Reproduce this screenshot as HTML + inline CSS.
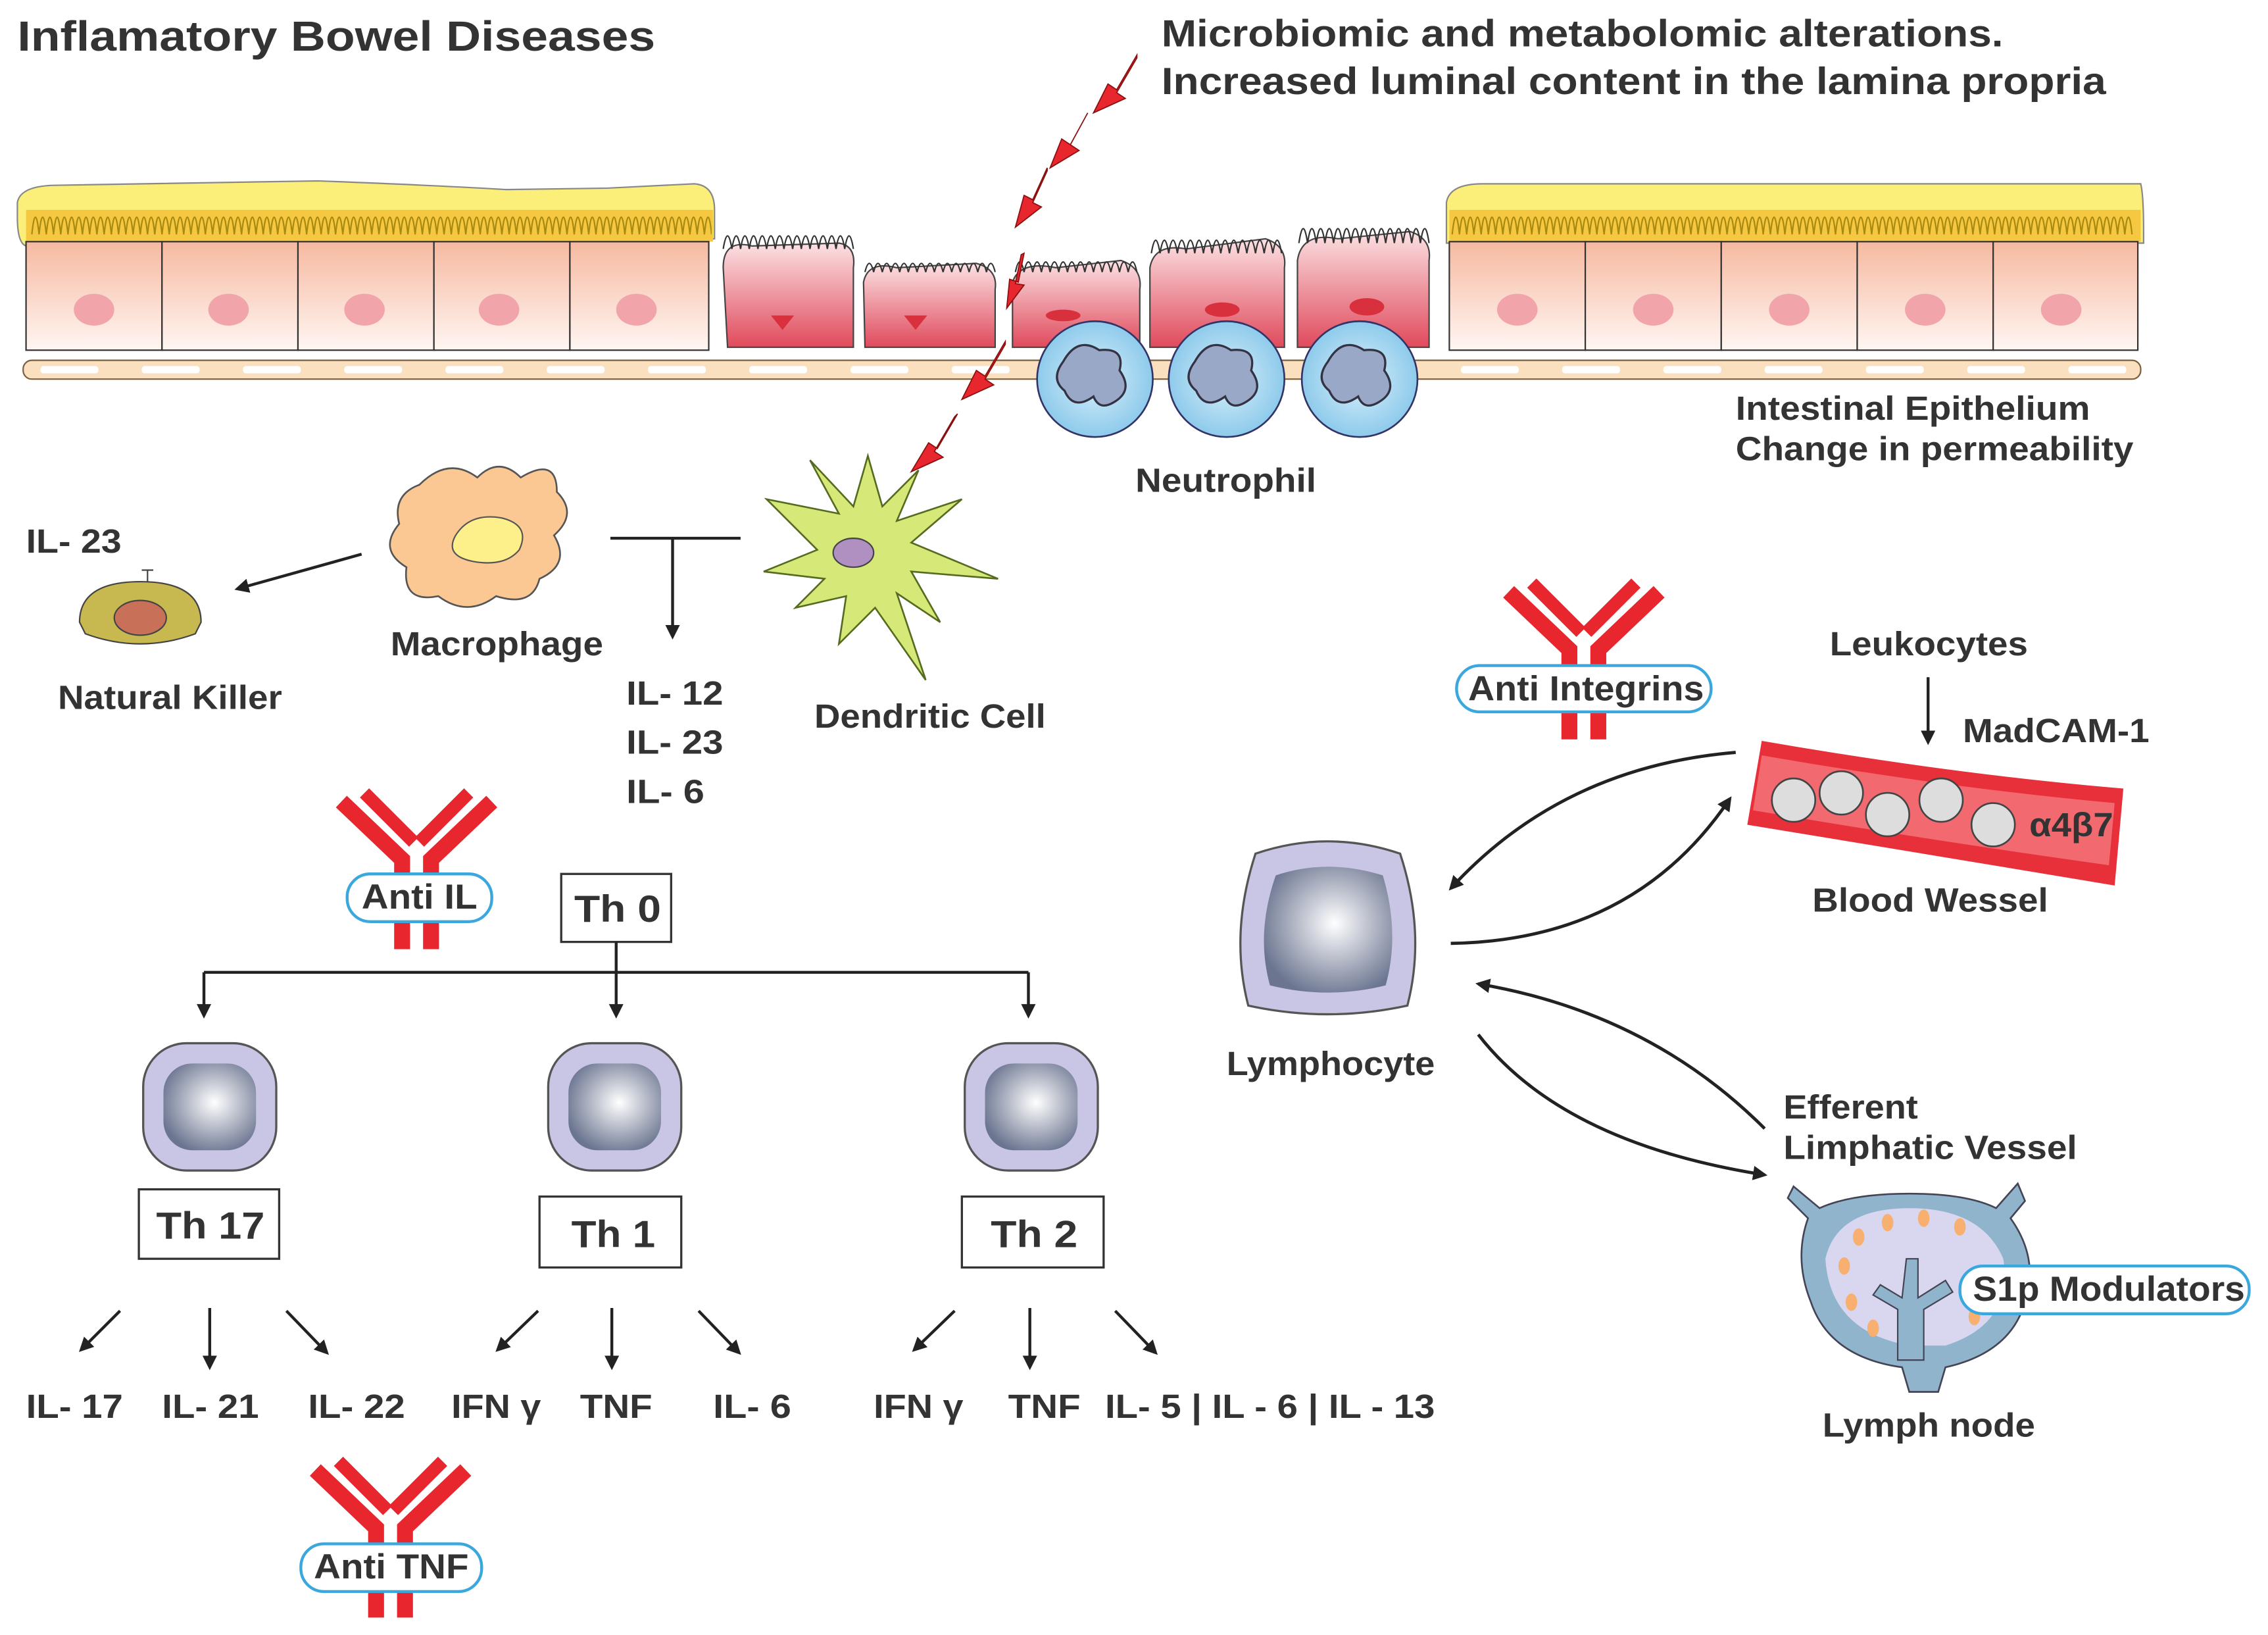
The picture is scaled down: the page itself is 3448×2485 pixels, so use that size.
<!DOCTYPE html>
<html><head><meta charset="utf-8"><style>
html,body{margin:0;padding:0;background:#fff;}
svg{display:block;}
text{font-family:"Liberation Sans",Arial,sans-serif;font-weight:bold;fill:#333;}
</style></head><body>
<svg width="3448" height="2485" viewBox="0 0 1568 1130" xmlns="http://www.w3.org/2000/svg">
<defs>
<marker id="ar" markerWidth="10" markerHeight="10" refX="8" refY="5" orient="auto" markerUnits="userSpaceOnUse" viewBox="0 0 10 10"><path d="M0,0 L10,5 L0,10 z" fill="#222"/></marker>
<linearGradient id="cellg" x1="0" y1="0" x2="0" y2="1"><stop offset="0" stop-color="#f6b9a0"/><stop offset="1" stop-color="#fff6f2"/></linearGradient>
<linearGradient id="pinkg" x1="0" y1="0" x2="0" y2="1"><stop offset="0" stop-color="#fbe1e3"/><stop offset="1" stop-color="#e04a5c"/></linearGradient>
<radialGradient id="lym" cx="0.55" cy="0.45" r="0.6"><stop offset="0" stop-color="#ffffff"/><stop offset="1" stop-color="#6b7590"/></radialGradient>
<radialGradient id="neu" cx="0.5" cy="0.5" r="0.6"><stop offset="0" stop-color="#d9f0fb"/><stop offset="1" stop-color="#7fc3e8"/></radialGradient>
<clipPath id="vclip"><rect x="18" y="120" width="474" height="60"/><rect x="1002" y="120" width="476" height="60"/></clipPath>
<g id="ab">
<path d="M-52,-46 L-10,-6 L-10,56 M52,-46 L10,-6 L10,56" stroke="#e8262e" stroke-width="11" fill="none"/>
<path d="M-36,-52 L-2,-18 M36,-52 L2,-18" stroke="#e8262e" stroke-width="9" fill="none"/>
</g>
<g id="lc">
<rect x="-46" y="-44" width="92" height="88" rx="30" fill="#c9c5e4" stroke="#555" stroke-width="1.5"/>
<rect x="-32" y="-30" width="64" height="60" rx="20" fill="url(#lym)"/>
</g>
</defs>

<text x="12" y="35" font-size="29" textLength="441" lengthAdjust="spacingAndGlyphs">Inflamatory Bowel Diseases</text>
<text x="803" y="32" font-size="26" textLength="582" lengthAdjust="spacingAndGlyphs">Microbiomic and metabolomic alterations.</text>
<text x="803" y="65" font-size="26" textLength="653" lengthAdjust="spacingAndGlyphs">Increased luminal content in the lamina propria</text>

<g>
<path d="M12,140 Q14,128 40,128 L220,125 Q300,128 350,131 L420,130 L480,127 Q494,128 494,145 L494,165 L18,170 Q12,168 12,150z" fill="#fbef7a" stroke="#888" stroke-width="1"/>
<rect x="18" y="145" width="475" height="22" fill="#f6c842"/>
<g fill="url(#cellg)" stroke="#333" stroke-width="1">
<rect x="18" y="167" width="94" height="75"/><rect x="112" y="167" width="94" height="75"/><rect x="206" y="167" width="94" height="75"/><rect x="300" y="167" width="94" height="75"/><rect x="394" y="167" width="96" height="75"/>
</g>
<g fill="#f2a4ab"><ellipse cx="65" cy="214" rx="14" ry="11"/><ellipse cx="158" cy="214" rx="14" ry="11"/><ellipse cx="252" cy="214" rx="14" ry="11"/><ellipse cx="345" cy="214" rx="14" ry="11"/><ellipse cx="440" cy="214" rx="14" ry="11"/></g>
</g>
<g>
<path d="M1000,140 Q1002,127 1025,127 L1480,127 Q1482,135 1482,160 L1482,168 L1000,168z" fill="#fbef7a" stroke="#888" stroke-width="1"/>
<rect x="1002" y="145" width="478" height="22" fill="#f6c842"/>
<g fill="url(#cellg)" stroke="#333" stroke-width="1">
<rect x="1002" y="167" width="94" height="75"/><rect x="1096" y="167" width="94" height="75"/><rect x="1190" y="167" width="94" height="75"/><rect x="1284" y="167" width="94" height="75"/><rect x="1378" y="167" width="100" height="75"/>
</g>
<g fill="#f2a4ab"><ellipse cx="1049" cy="214" rx="14" ry="11"/><ellipse cx="1143" cy="214" rx="14" ry="11"/><ellipse cx="1237" cy="214" rx="14" ry="11"/><ellipse cx="1331" cy="214" rx="14" ry="11"/><ellipse cx="1425" cy="214" rx="14" ry="11"/></g>
</g>
<g stroke="#444" stroke-width="1">
<path d="M500,185 Q500,165 520,170 L580,168 Q592,170 590,185 L590,240 L503,240z" fill="url(#pinkg)"/>
<path d="M597,195 Q600,180 620,185 L675,182 Q690,186 688,200 L688,240 L598,240z" fill="url(#pinkg)"/>
<path d="M700,195 Q705,180 730,185 L775,180 Q790,185 788,200 L788,240 L700,240z" fill="url(#pinkg)"/>
<path d="M795,185 Q798,168 820,172 L875,165 Q890,170 888,185 L888,240 L795,240z" fill="url(#pinkg)"/>
<path d="M897,180 Q900,160 925,165 L975,160 Q990,165 988,180 L988,240 L897,240z" fill="url(#pinkg)"/>
</g>
<g stroke="#333" stroke-width="1" fill="none">
<path d="M500,172 q3,-18 6,0 q3,-18 6,0 q3,-18 6,0 q3,-18 6,0 q3,-18 6,0 q3,-18 6,0 q3,-18 6,0 q3,-18 6,0 q3,-18 6,0 q3,-18 6,0 q3,-18 6,0 q3,-18 6,0 q3,-18 6,0 q3,-18 6,0 q3,-18 6,0"/>
<path d="M598,188 q3,-12 6,0 q3,-12 6,0 q3,-12 6,0 q3,-12 6,0 q3,-12 6,0 q3,-12 6,0 q3,-12 6,0 q3,-12 6,0 q3,-12 6,0 q3,-12 6,0 q3,-12 6,0 q3,-12 6,0 q3,-12 6,0 q3,-12 6,0 q3,-12 6,0"/>
<path d="M702,188 q3,-14 6,0 q3,-14 6,0 q3,-14 6,0 q3,-14 6,0 q3,-14 6,0 q3,-14 6,0 q3,-14 6,0 q3,-14 6,0 q3,-14 6,0 q3,-14 6,0 q3,-14 6,0 q3,-14 6,0 q3,-14 6,0 q3,-14 6,0"/>
<path d="M796,175 q3,-18 6,0 q3,-18 6,0 q3,-18 6,0 q3,-18 6,0 q3,-18 6,0 q3,-18 6,0 q3,-18 6,0 q3,-18 6,0 q3,-18 6,0 q3,-18 6,0 q3,-18 6,0 q3,-18 6,0 q3,-18 6,0 q3,-18 6,0 q3,-18 6,0"/>
<path d="M898,168 q3,-20 6,0 q3,-20 6,0 q3,-20 6,0 q3,-20 6,0 q3,-20 6,0 q3,-20 6,0 q3,-20 6,0 q3,-20 6,0 q3,-20 6,0 q3,-20 6,0 q3,-20 6,0 q3,-20 6,0 q3,-20 6,0 q3,-20 6,0 q3,-20 6,0"/>
</g>
<g fill="#d9303e"><path d="M533,218 l16,0 l-8,10z"/><path d="M625,218 l16,0 l-8,10z"/><ellipse cx="735" cy="218" rx="12" ry="4"/><ellipse cx="845" cy="214" rx="12" ry="5"/><ellipse cx="945" cy="212" rx="12" ry="6"/></g>
<g stroke="#a88a10" stroke-width="1" fill="none" clip-path="url(#vclip)">
<path id="vl" d="M22,162 q2.5,-24 5,0 q2.5,-24 5,0 q2.5,-24 5,0 q2.5,-24 5,0 q2.5,-24 5,0 q2.5,-24 5,0 q2.5,-24 5,0 q2.5,-24 5,0 q2.5,-24 5,0 q2.5,-24 5,0 q2.5,-24 5,0 q2.5,-24 5,0 q2.5,-24 5,0 q2.5,-24 5,0 q2.5,-24 5,0 q2.5,-24 5,0 q2.5,-24 5,0 q2.5,-24 5,0 q2.5,-24 5,0 q2.5,-24 5,0 q2.5,-24 5,0 q2.5,-24 5,0 q2.5,-24 5,0 q2.5,-24 5,0 q2.5,-24 5,0 q2.5,-24 5,0 q2.5,-24 5,0 q2.5,-24 5,0 q2.5,-24 5,0 q2.5,-24 5,0 q2.5,-24 5,0 q2.5,-24 5,0 q2.5,-24 5,0 q2.5,-24 5,0 q2.5,-24 5,0 q2.5,-24 5,0 q2.5,-24 5,0 q2.5,-24 5,0 q2.5,-24 5,0 q2.5,-24 5,0 q2.5,-24 5,0 q2.5,-24 5,0 q2.5,-24 5,0 q2.5,-24 5,0 q2.5,-24 5,0 q2.5,-24 5,0 q2.5,-24 5,0 q2.5,-24 5,0 q2.5,-24 5,0 q2.5,-24 5,0 q2.5,-24 5,0 q2.5,-24 5,0 q2.5,-24 5,0 q2.5,-24 5,0 q2.5,-24 5,0 q2.5,-24 5,0 q2.5,-24 5,0 q2.5,-24 5,0 q2.5,-24 5,0 q2.5,-24 5,0 q2.5,-24 5,0 q2.5,-24 5,0 q2.5,-24 5,0 q2.5,-24 5,0 q2.5,-24 5,0 q2.5,-24 5,0 q2.5,-24 5,0 q2.5,-24 5,0 q2.5,-24 5,0 q2.5,-24 5,0 q2.5,-24 5,0 q2.5,-24 5,0 q2.5,-24 5,0 q2.5,-24 5,0 q2.5,-24 5,0 q2.5,-24 5,0 q2.5,-24 5,0 q2.5,-24 5,0 q2.5,-24 5,0 q2.5,-24 5,0 q2.5,-24 5,0 q2.5,-24 5,0 q2.5,-24 5,0 q2.5,-24 5,0 q2.5,-24 5,0 q2.5,-24 5,0 q2.5,-24 5,0 q2.5,-24 5,0 q2.5,-24 5,0 q2.5,-24 5,0 q2.5,-24 5,0 q2.5,-24 5,0 q2.5,-24 5,0 q2.5,-24 5,0"/>
<use href="#vl" x="982"/>
</g>
<rect x="16" y="249" width="1464" height="13" rx="6" fill="#fbe0c0" stroke="#7a6040" stroke-width="1"/>
<g fill="#fff">
<rect x="28" y="253" width="40" height="5" rx="2"/><rect x="98" y="253" width="40" height="5" rx="2"/><rect x="168" y="253" width="40" height="5" rx="2"/><rect x="238" y="253" width="40" height="5" rx="2"/><rect x="308" y="253" width="40" height="5" rx="2"/><rect x="378" y="253" width="40" height="5" rx="2"/><rect x="448" y="253" width="40" height="5" rx="2"/><rect x="518" y="253" width="40" height="5" rx="2"/><rect x="588" y="253" width="40" height="5" rx="2"/><rect x="658" y="253" width="40" height="5" rx="2"/><rect x="1010" y="253" width="40" height="5" rx="2"/><rect x="1080" y="253" width="40" height="5" rx="2"/><rect x="1150" y="253" width="40" height="5" rx="2"/><rect x="1220" y="253" width="40" height="5" rx="2"/><rect x="1290" y="253" width="40" height="5" rx="2"/><rect x="1360" y="253" width="40" height="5" rx="2"/><rect x="1430" y="253" width="40" height="5" rx="2"/>
</g>
<g stroke="#336" stroke-width="1.2">
<circle cx="757" cy="262" r="40" fill="url(#neu)"/><circle cx="848" cy="262" r="40" fill="url(#neu)"/><circle cx="940" cy="262" r="40" fill="url(#neu)"/>
</g>
<g fill="#9aa8c8" stroke="#334" stroke-width="1.5">
<path d="M735,250 q10,-18 25,-8 q18,-2 14,14 q10,14 -4,22 q-10,6 -14,-4 q-14,10 -20,-4 q-10,-8 -1,-20z"/>
<path d="M826,250 q10,-18 25,-8 q18,-2 14,14 q10,14 -4,22 q-10,6 -14,-4 q-14,10 -20,-4 q-10,-8 -1,-20z"/>
<path d="M918,250 q10,-18 25,-8 q18,-2 14,14 q10,14 -4,22 q-10,6 -14,-4 q-14,10 -20,-4 q-10,-8 -1,-20z"/>
</g>
<g fill="#e8262e" stroke="#8a1010" stroke-width="0.8">
<path d="M786,38 l-14,24 l-6,-4 l-10,20 l22,-10 l-6,-4 l14,-24z"/>
<path d="M752,78 l-12,22 l-6,-4 l-8,20 l20,-12 l-6,-4 l12,-22z"/>
<path d="M724,116 l-10,22 l-6,-3 l-6,22 l18,-14 l-6,-3 l10,-22z"/>
<path d="M708,175 l-4,20 l-6,-2 l-2,20 l12,-16 l-6,-1 l4,-20z"/>
<path d="M695,236 l-14,24 l-6,-4 l-10,20 l22,-10 l-6,-4 l14,-24z"/>
<path d="M662,286 l-14,24 l-6,-4 l-12,20 l22,-10 l-6,-4 l14,-24z"/>
</g>
<text x="1200" y="290" font-size="23" textLength="245" lengthAdjust="spacingAndGlyphs">Intestinal Epithelium</text>
<text x="1200" y="318" font-size="23" textLength="275" lengthAdjust="spacingAndGlyphs">Change in permeability</text>
<text x="785" y="340" font-size="23" textLength="125" lengthAdjust="spacingAndGlyphs">Neutrophil</text>

<path d="M290,335 q20,-20 40,-5 q15,-15 30,0 q25,-15 25,10 q15,15 -2,30 q12,20 -10,30 q-5,20 -30,12 q-20,15 -40,0 q-25,5 -22,-20 q-20,-12 -5,-30 q-5,-20 14,-27z" fill="#fbc894" stroke="#555" stroke-width="1.2"/>
<path d="M315,370 q10,-16 32,-12 q20,5 12,22 q-10,12 -32,8 q-20,-4 -12,-18z" fill="#fdf08a" stroke="#555"/>
<text x="270" y="453" font-size="23" textLength="147" lengthAdjust="spacingAndGlyphs">Macrophage</text>
<g stroke="#556b20" stroke-width="1.2" fill="#d6e878">
<path d="M580,355 L560,318 L590,350 L600,315 L610,350 L635,325 L620,360 L665,345 L630,375 L690,400 L630,395 L650,430 L620,410 L640,470 L605,420 L580,445 L585,412 L550,420 L570,400 L528,395 L565,380 L530,345z"/>
</g>
<ellipse cx="590" cy="382" rx="14" ry="10" fill="#b090c0" stroke="#444"/>
<text x="563" y="503" font-size="23" textLength="160" lengthAdjust="spacingAndGlyphs">Dendritic Cell</text>
<path d="M55,430 q0,-28 42,-28 q42,0 42,28 l-4,8 q-38,14 -76,0z" fill="#c8b850" stroke="#444"/>
<ellipse cx="97" cy="427" rx="18" ry="12" fill="#c87058" stroke="#444"/>
<path d="M102,402 l0,-8 m-4,0 l8,0" stroke="#444"/>
<text x="18" y="382" font-size="23" textLength="66" lengthAdjust="spacingAndGlyphs">IL- 23</text>
<text x="40" y="490" font-size="23" textLength="155" lengthAdjust="spacingAndGlyphs">Natural Killer</text>

<g stroke="#222" stroke-width="2" fill="none">
<line x1="250" y1="383" x2="164" y2="407" marker-end="url(#ar)"/>
<line x1="422" y1="372" x2="512" y2="372"/>
<line x1="465" y1="372" x2="465" y2="440" marker-end="url(#ar)"/>
</g>
<text x="433" y="487" font-size="23" textLength="67" lengthAdjust="spacingAndGlyphs">IL- 12</text>
<text x="433" y="521" font-size="23" textLength="67" lengthAdjust="spacingAndGlyphs">IL- 23</text>
<text x="433" y="555" font-size="23" textLength="54" lengthAdjust="spacingAndGlyphs">IL- 6</text>

<use href="#ab" x="288" y="600"/>
<rect x="240" y="604" width="100" height="33" rx="16" fill="#fff" stroke="#3aa7dd" stroke-width="2"/>
<text x="250" y="628" font-size="24" textLength="80" lengthAdjust="spacingAndGlyphs">Anti IL</text>
<rect x="388" y="604" width="76" height="47" fill="#fff" stroke="#333" stroke-width="1.5"/>
<text x="397" y="637" font-size="26" textLength="60" lengthAdjust="spacingAndGlyphs">Th 0</text>

<g stroke="#222" stroke-width="2" fill="none">
<line x1="426" y1="651" x2="426" y2="672"/>
<line x1="141" y1="672" x2="711" y2="672"/>
<line x1="141" y1="672" x2="141" y2="702" marker-end="url(#ar)"/>
<line x1="426" y1="672" x2="426" y2="702" marker-end="url(#ar)"/>
<line x1="711" y1="672" x2="711" y2="702" marker-end="url(#ar)"/>
</g>
<use href="#lc" x="145" y="765"/>
<use href="#lc" x="425" y="765"/>
<use href="#lc" x="713" y="765"/>
<rect x="96" y="822" width="97" height="48" fill="#fff" stroke="#333" stroke-width="1.5"/>
<text x="108" y="856" font-size="26" textLength="75" lengthAdjust="spacingAndGlyphs">Th 17</text>
<rect x="373" y="827" width="98" height="49" fill="#fff" stroke="#333" stroke-width="1.5"/>
<text x="395" y="862" font-size="26" textLength="58" lengthAdjust="spacingAndGlyphs">Th 1</text>
<rect x="665" y="827" width="98" height="49" fill="#fff" stroke="#333" stroke-width="1.5"/>
<text x="685" y="862" font-size="26" textLength="60" lengthAdjust="spacingAndGlyphs">Th 2</text>

<g stroke="#222" stroke-width="2" fill="none">
<line x1="83" y1="906" x2="56" y2="933" marker-end="url(#ar)"/>
<line x1="145" y1="904" x2="145" y2="945" marker-end="url(#ar)"/>
<line x1="198" y1="906" x2="226" y2="935" marker-end="url(#ar)"/>
<line x1="372" y1="906" x2="344" y2="933" marker-end="url(#ar)"/>
<line x1="423" y1="904" x2="423" y2="945" marker-end="url(#ar)"/>
<line x1="483" y1="906" x2="511" y2="935" marker-end="url(#ar)"/>
<line x1="660" y1="906" x2="632" y2="933" marker-end="url(#ar)"/>
<line x1="712" y1="904" x2="712" y2="945" marker-end="url(#ar)"/>
<line x1="771" y1="906" x2="799" y2="935" marker-end="url(#ar)"/>
</g>
<g font-size="23">
<text x="18" y="980" textLength="67" lengthAdjust="spacingAndGlyphs">IL- 17</text><text x="112" y="980" textLength="67" lengthAdjust="spacingAndGlyphs">IL- 21</text><text x="213" y="980" textLength="67" lengthAdjust="spacingAndGlyphs">IL- 22</text>
<text x="312" y="980" textLength="62" lengthAdjust="spacingAndGlyphs">IFN γ</text><text x="401" y="980" textLength="50" lengthAdjust="spacingAndGlyphs">TNF</text><text x="493" y="980" textLength="54" lengthAdjust="spacingAndGlyphs">IL- 6</text>
<text x="604" y="980" textLength="62" lengthAdjust="spacingAndGlyphs">IFN γ</text><text x="697" y="980" textLength="50" lengthAdjust="spacingAndGlyphs">TNF</text><text x="764" y="980" textLength="228" lengthAdjust="spacingAndGlyphs">IL- 5 | IL - 6 | IL - 13</text>
</g>
<use href="#ab" x="270" y="1062"/>
<rect x="208" y="1067" width="125" height="33" rx="16" fill="#fff" stroke="#3aa7dd" stroke-width="2"/>
<text x="217" y="1091" font-size="24" textLength="107" lengthAdjust="spacingAndGlyphs">Anti TNF</text>

<use href="#ab" x="1095" y="455"/>
<rect x="1007" y="460" width="176" height="32" rx="16" fill="#fff" stroke="#3aa7dd" stroke-width="2"/>
<text x="1015" y="484" font-size="24" textLength="163" lengthAdjust="spacingAndGlyphs">Anti Integrins</text>
<text x="1265" y="453" font-size="23" textLength="137" lengthAdjust="spacingAndGlyphs">Leukocytes</text>
<line x1="1333" y1="468" x2="1333" y2="513" stroke="#222" stroke-width="2" marker-end="url(#ar)"/>
<text x="1357" y="513" font-size="23" textLength="129" lengthAdjust="spacingAndGlyphs">MadCAM-1</text>
<path d="M1218,512 Q1350,535 1468,545 L1462,612 Q1330,590 1208,570z" fill="#e8303a"/>
<path d="M1218,522 Q1350,545 1462,555 L1458,598 Q1330,580 1212,560z" fill="#f26a70"/>
<g fill="#ddd" stroke="#444" stroke-width="1.2">
<circle cx="1240" cy="553" r="15"/><circle cx="1273" cy="548" r="15"/><circle cx="1305" cy="563" r="15"/><circle cx="1342" cy="553" r="15"/><circle cx="1378" cy="570" r="15"/>
</g>
<text x="1403" y="578" font-size="23" textLength="58" lengthAdjust="spacingAndGlyphs">α4β7</text>
<text x="1253" y="630" font-size="23" textLength="163" lengthAdjust="spacingAndGlyphs">Blood Wessel</text>

<g transform="translate(918,645)">
<path d="M-50,-55 Q0,-72 50,-55 Q68,0 55,50 Q0,62 -55,50 Q-68,0 -50,-55z" fill="#c9c5e4" stroke="#555" stroke-width="1.5"/>
<path d="M-36,-40 Q0,-52 38,-40 Q50,0 40,36 Q0,46 -40,36 Q-50,0 -36,-40z" fill="url(#lym)"/>
</g>
<text x="848" y="743" font-size="23" textLength="144" lengthAdjust="spacingAndGlyphs">Lymphocyte</text>
<g stroke="#222" stroke-width="2.2" fill="none">
<path d="M1200,520 Q1080,530 1003,614" marker-end="url(#ar)"/>
<path d="M1003,652 Q1130,650 1196,552" marker-end="url(#ar)"/>
<path d="M1220,780 Q1140,700 1022,680" marker-end="url(#ar)"/>
<path d="M1022,715 Q1080,790 1220,812" marker-end="url(#ar)"/>
</g>
<text x="1233" y="773" font-size="23" textLength="93" lengthAdjust="spacingAndGlyphs">Efferent</text>
<text x="1233" y="801" font-size="23" textLength="203" lengthAdjust="spacingAndGlyphs">Limphatic Vessel</text>
<path d="M1240,820 L1258,835 Q1280,825 1320,825 Q1360,825 1380,835 L1395,818 L1400,830 L1390,842 Q1410,870 1400,900 Q1390,935 1345,945 L1340,962 L1320,962 L1315,945 Q1265,938 1252,900 Q1240,870 1250,842 L1236,828z" fill="#8fb4cc" stroke="#445" stroke-width="1.2"/>
<path d="M1262,870 Q1270,835 1320,835 Q1370,835 1385,870 Q1392,915 1345,930 L1320,930 Q1265,920 1262,870z" fill="#d9d6f0"/>
<path d="M1312,940 L1312,905 L1295,895 L1300,888 L1315,897 L1318,870 L1326,870 L1326,897 L1345,885 L1350,893 L1330,905 L1330,940z" fill="#8fb4cc" stroke="#445"/>
<g fill="#f8b070"><ellipse cx="1285" cy="855" rx="4" ry="6"/><ellipse cx="1305" cy="845" rx="4" ry="6"/><ellipse cx="1330" cy="842" rx="4" ry="6"/><ellipse cx="1355" cy="848" rx="4" ry="6"/><ellipse cx="1275" cy="875" rx="4" ry="6"/><ellipse cx="1280" cy="900" rx="4" ry="6"/><ellipse cx="1295" cy="918" rx="4" ry="6"/><ellipse cx="1365" cy="910" rx="4" ry="6"/></g>
<rect x="1355" y="875" width="200" height="33" rx="16" fill="#fff" stroke="#3aa7dd" stroke-width="2"/>
<text x="1364" y="899" font-size="24" textLength="188" lengthAdjust="spacingAndGlyphs">S1p Modulators</text>
<text x="1260" y="993" font-size="23" textLength="147" lengthAdjust="spacingAndGlyphs">Lymph node</text>
</svg>
</body></html>
